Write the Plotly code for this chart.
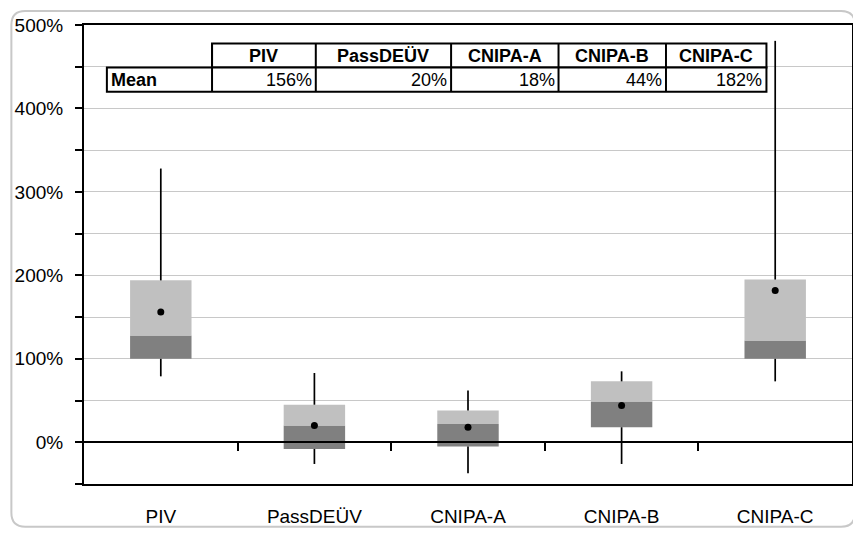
import plotly.graph_objects as go

categories = ["PIV", "PassDEÜV", "CNIPA-A", "CNIPA-B", "CNIPA-C"]
whisker_min = [79, -26, -37, -26, 73]
quartile1 = [100, -8, -5, 18, 100]
median = [128, 20, 22, 49, 122]
quartile3 = [194, 45, 38, 73, 195]
whisker_max = [328, 83, 62, 85, 481]
mean = [156, 20, 18, 44, 182]
mean_labels = ["156%", "20%", "18%", "44%", "182%"]
y_tickvals = [-50, 0, 50, 100, 150, 200, 250, 300, 350, 400, 450, 500]
y_ticktext = ["", "0%", "", "100%", "", "200%", "", "300%", "", "400%", "", "500%"]

# page has an 8px body margin; work in page pixels and convert
OFF = 8
W_PX, H_PX = 861 - OFF, 534 - OFF
L, R, T, B = 82 - OFF, 854 - OFF, 23 - OFF, 484 - OFF
PW, PH = R - L, B - T


def px(x):
    return (x - OFF - L) / PW


def py(y):
    return (B - (y - OFF)) / PH


xs = list(range(len(categories)))
FONT = "Liberation Sans, Arial, Helvetica, sans-serif"

fig = go.Figure()

# whiskers
wx, wy = [], []
for i in xs:
    wx += [i, i, None, i, i, None]
    wy += [whisker_min[i], quartile1[i], None, quartile3[i], whisker_max[i], None]
fig.add_trace(go.Scatter(x=wx, y=wy, mode="lines", line=dict(color="black", width=1.7),
                         hoverinfo="skip", showlegend=False))

fig.add_trace(go.Bar(x=xs, base=quartile1, y=[m - q for m, q in zip(median, quartile1)],
                     width=0.4, marker=dict(color="#808080", line=dict(width=0)), showlegend=False))
fig.add_trace(go.Bar(x=xs, base=median, y=[q - m for q, m in zip(quartile3, median)],
                     width=0.4, marker=dict(color="#c0c0c0", line=dict(width=0)), showlegend=False))

fig.add_trace(go.Scatter(x=xs, y=mean, mode="markers", xaxis="x2",
                         marker=dict(color="black", size=7), showlegend=False))

fig.update_layout(
    width=W_PX, height=H_PX,
    margin=dict(l=L, r=W_PX - R, t=T, b=H_PX - B),
    paper_bgcolor="white", plot_bgcolor="white",
    barmode="overlay",
    font=dict(family=FONT, size=18, color="black"),
    xaxis=dict(range=[-0.5, 4.5], tickvals=xs, ticktext=categories, ticks="",
               showgrid=False, zeroline=False, showline=True, linecolor="black",
               linewidth=2, mirror=True, ticklabelstandoff=14,
               tickfont=dict(size=19)),
    xaxis2=dict(range=[-0.5, 4.5], overlaying="x", anchor="free", position=50 / 550,
                tickvals=[0.5, 1.5, 2.5, 3.5], showticklabels=False, ticks="outside",
                ticklen=8, tickwidth=2, tickcolor="black", showgrid=False, zeroline=False,
                showline=True, linecolor="black", linewidth=2),
    yaxis=dict(range=[-50, 500], tickvals=y_tickvals, ticktext=y_ticktext,
               ticks="outside", ticklen=7, tickwidth=2, tickcolor="black",
               showgrid=True, gridcolor="#c8c8c8", gridwidth=1, zeroline=False,
               showline=True, linecolor="black", linewidth=2, mirror=True,
               ticklabelstandoff=8, tickfont=dict(size=19)),
)

# outer rounded frame (page pixels)
x0, x1, y0, y1, r = 9, 857, 9, 527, 14
rx, ry = r / PW, r / PH
path = (f"M {px(x0)+rx} {py(y0)} L {px(x1)-rx} {py(y0)} Q {px(x1)} {py(y0)} {px(x1)} {py(y0)-ry} "
        f"L {px(x1)} {py(y1)+ry} Q {px(x1)} {py(y1)} {px(x1)-rx} {py(y1)} "
        f"L {px(x0)+rx} {py(y1)} Q {px(x0)} {py(y1)} {px(x0)} {py(y1)+ry} "
        f"L {px(x0)} {py(y0)-ry} Q {px(x0)} {py(y0)} {px(x0)+rx} {py(y0)} Z")
fig.add_shape(type="path", path=path, xref="paper", yref="paper",
              line=dict(color="#c8c8c8", width=2), layer="below")

# table (page pixels)
col_edges = [210.7, 315, 451, 559, 667, 768]
label_left = 105
row_top, row_mid, row_bot = 41.7, 65.7, 90
shape_kw = dict(xref="paper", yref="paper", line=dict(color="black", width=2),
                fillcolor="white", layer="above")
fig.add_shape(type="rect", x0=px(col_edges[0]), x1=px(col_edges[-1]), y0=py(row_mid), y1=py(row_top), **shape_kw)
fig.add_shape(type="rect", x0=px(label_left), x1=px(col_edges[-1]), y0=py(row_bot), y1=py(row_mid), **shape_kw)
for e in col_edges[:-1]:
    fig.add_shape(type="line", x0=px(e), x1=px(e), y0=py(row_bot), y1=py(row_top),
                  xref="paper", yref="paper", line=dict(color="black", width=2))

for i, name in enumerate(categories):
    cx = (col_edges[i] + col_edges[i + 1]) / 2
    fig.add_annotation(x=px(cx), y=py((row_top + row_mid) / 2), xref="paper", yref="paper",
                       text=f"<b>{name}</b>", showarrow=False, xanchor="center", yanchor="middle",
                       font=dict(size=18))
    fig.add_annotation(x=px(col_edges[i + 1] - 2), y=py((row_mid + row_bot) / 2), xref="paper", yref="paper",
                       text=mean_labels[i], showarrow=False, xanchor="right", yanchor="middle",
                       font=dict(size=18))
fig.add_annotation(x=px(label_left + 2), y=py((row_mid + row_bot) / 2), xref="paper", yref="paper",
                   text="<b>Mean</b>", showarrow=False, xanchor="left", yanchor="middle",
                   font=dict(size=18))

fig.write_html("out.html")
